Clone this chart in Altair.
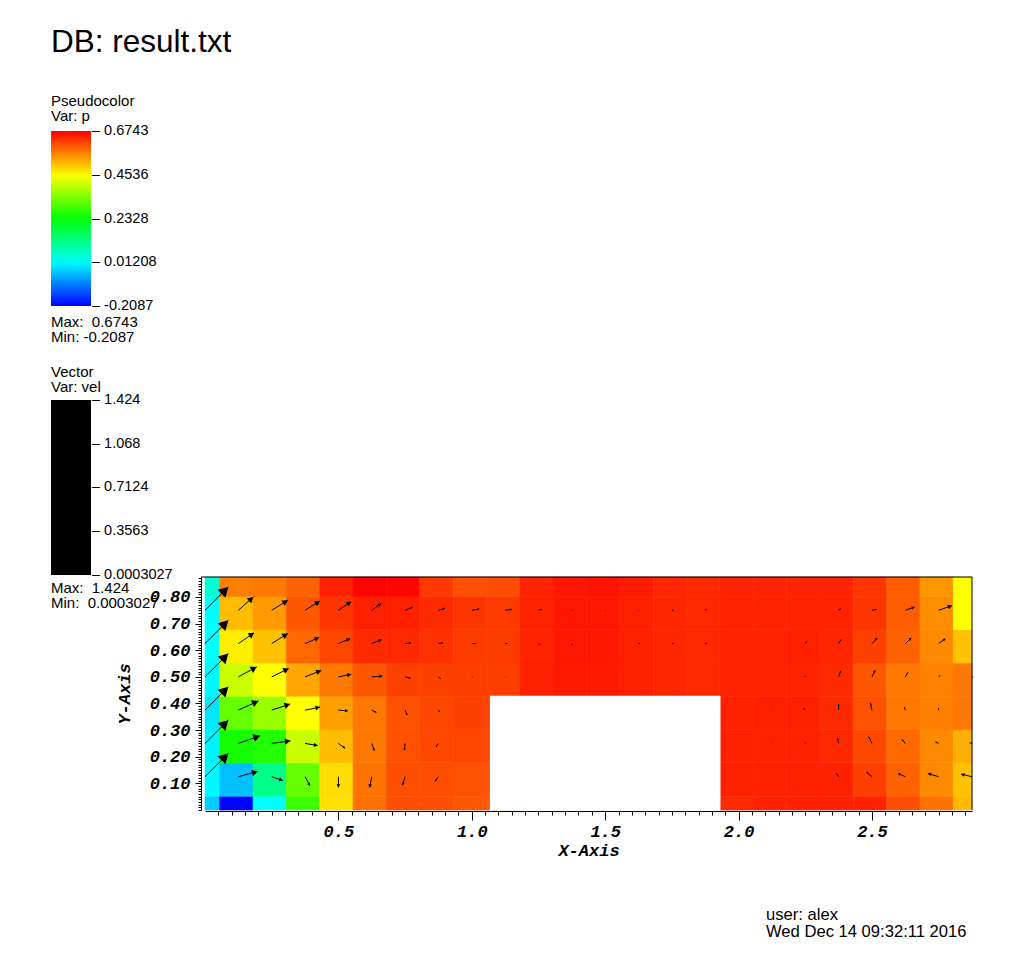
import altair as alt
import pandas as pd
import numpy as np

# ---------------- data ----------------
# cell edges of the colour grid (data units)
x_edges = [0.0, 0.055, 0.18, 0.305, 0.43, 0.555, 0.68, 0.805, 0.93, 1.055, 1.18, 1.305,
           1.43, 1.555, 1.68, 1.805, 1.93, 2.055, 2.18, 2.305, 2.43, 2.555, 2.68, 2.805, 2.875]
y_edges = [0.0, 0.052, 0.177, 0.302, 0.427, 0.552, 0.677, 0.802, 0.875]

# grid points (vector glyph tails)
x_points = [0.0, 0.125, 0.25, 0.375, 0.5, 0.625, 0.75, 0.875, 1.0, 1.125, 1.25, 1.375,
            1.5, 1.625, 1.75, 1.875, 2.0, 2.125, 2.25, 2.375, 2.5, 2.625, 2.75, 2.875]
y_points = [0.0, 0.125, 0.25, 0.375, 0.5, 0.625, 0.75, 0.875]

# pressure p per row (bottom row first), None = inside the obstacle
N = None
p_row0 = [-0.032, -0.2087, 0.012, 0.285, 0.480, 0.577, 0.608, 0.608, 0.601, 0.601, N, N, N, N, N, N,
          0.640, 0.647, 0.647, 0.647, 0.647, 0.608, 0.577, 0.515]
p_row1 = [0.005, -0.043, 0.115, 0.321, 0.483, 0.575, 0.608, 0.608, 0.605, 0.605, N, N, N, N, N, N,
          0.647, 0.647, 0.647, 0.647, 0.622, 0.591, 0.556, 0.508]
p_row2 = [0.000, 0.250, 0.262, 0.409, 0.512, 0.571, 0.605, 0.612, 0.615, 0.615, N, N, N, N, N, N,
          0.647, 0.647, 0.647, 0.640, 0.612, 0.583, 0.556, 0.523]
p_row3 = [-0.010, 0.321, 0.365, 0.454, 0.536, 0.571, 0.605, 0.615, 0.619, 0.619, N, N, N, N, N, N,
          0.647, 0.648, 0.648, 0.638, 0.605, 0.570, 0.564, 0.571]
p_row4 = [0.005, 0.409, 0.454, 0.531, 0.571, 0.601, 0.619, 0.619, 0.622, 0.622, 0.648, 0.652,
          0.652, 0.648, 0.643, 0.640, 0.645, 0.645, 0.645, 0.638, 0.601, 0.571, 0.563, 0.571]
p_row5 = [0.012, 0.468, 0.508, 0.586, 0.615, 0.638, 0.640, 0.633, 0.624, 0.624, 0.645, 0.657,
          0.657, 0.648, 0.643, 0.640, 0.645, 0.645, 0.648, 0.643, 0.619, 0.591, 0.556, 0.508]
p_row6 = [0.012, 0.512, 0.542, 0.601, 0.630, 0.648, 0.648, 0.638, 0.630, 0.624, 0.645, 0.657,
          0.657, 0.648, 0.643, 0.640, 0.645, 0.645, 0.645, 0.645, 0.630, 0.596, 0.553, 0.454]
p_row7 = [0.050, 0.564, 0.571, 0.590, 0.647, 0.672, 0.670, 0.625, 0.607, 0.610, 0.645, 0.657,
          0.660, 0.652, 0.643, 0.640, 0.645, 0.645, 0.645, 0.645, 0.630, 0.596, 0.545, 0.454]
p_rows = [p_row0, p_row1, p_row2, p_row3, p_row4, p_row5, p_row6, p_row7]

# velocity components (rows y=0.125 .. 0.75); rows y=0 and y=0.875 are zero
u_row1 = [1.0, 0.83, 0.47, 0.21, 0.0, -0.09, -0.11, -0.14, 0.0, 0, 0, 0, 0, 0, 0, 0,
          0.0, 0.0, 0.01, -0.09, -0.23, -0.31, -0.46, -0.47]
v_row1 = [1.0, 0.23, -0.16, -0.39, -0.46, -0.46, -0.36, -0.19, 0.0, 0, 0, 0, 0, 0, 0, 0,
          0.0, 0.0, 0.0, 0.14, 0.20, 0.14, 0.14, 0.11]
u_row2 = [1.0, 0.93, 0.80, 0.54, 0.29, 0.11, -0.03, -0.10, 0.0, 0, 0, 0, 0, 0, 0, 0,
          0.0, 0.01, 0.02, -0.04, -0.14, -0.14, -0.14, -0.10]
v_row2 = [1.0, 0.33, 0.11, -0.09, -0.21, -0.31, -0.29, -0.14, 0.0, 0, 0, 0, 0, 0, 0, 0,
          0.0, 0.0, 0.03, 0.21, 0.29, 0.17, 0.07, 0.03]
u_row3 = [1.0, 0.86, 0.79, 0.64, 0.40, 0.20, 0.09, 0.06, 0.0, 0, 0, 0, 0, 0, 0, 0,
          0.0, 0.01, -0.07, 0.0, -0.07, -0.04, 0.0, 0.0]
v_row3 = [1.0, 0.39, 0.26, 0.13, -0.03, -0.10, -0.21, -0.09, 0.0, 0, 0, 0, 0, 0, 0, 0,
          0.0, 0.0, 0.07, 0.26, 0.30, 0.14, 0.10, 0.0]
u_row4 = [1.0, 0.79, 0.73, 0.69, 0.54, 0.46, 0.23, 0.09, 0.03, 0.02, 0.0, 0.0, 0.0, 0.0, 0.0, 0.0,
          0.0, 0.0, 0.0, 0.10, 0.14, 0.11, 0.07, 0.05]
v_row4 = [1.0, 0.43, 0.36, 0.27, 0.11, 0.03, -0.06, -0.09, 0.0, 0.0, 0.0, 0.0, 0.0, 0.0, 0.0, 0.0,
          0.0, 0.0, 0.04, 0.26, 0.29, 0.19, 0.06, 0.0]
u_row5 = [1.0, 0.67, 0.69, 0.60, 0.51, 0.43, 0.26, 0.19, 0.17, 0.09, 0.07, 0.01, 0.0, 0.07, 0.07, 0.07,
          0.01, 0.01, 0.07, 0.11, 0.23, 0.26, 0.29, 0.0]
v_row5 = [1.0, 0.46, 0.43, 0.26, 0.21, 0.17, 0.03, 0.03, 0.0, 0.0, -0.06, -0.07, 0.0, 0.0, 0.0, 0.0,
          0.0, 0.0, 0.10, 0.17, 0.24, 0.24, 0.21, 0.0]
u_row6 = [1.0, 0.64, 0.69, 0.64, 0.54, 0.40, 0.33, 0.29, 0.31, 0.29, 0.14, 0.03, 0.02, 0.02, 0.07, 0.07,
          0.01, 0.01, 0.01, 0.09, 0.20, 0.40, 0.57, 0.0]
v_row6 = [1.0, 0.57, 0.43, 0.40, 0.37, 0.29, 0.14, 0.09, 0.05, 0.04, 0.04, 0.0, 0.0, 0.0, 0.0, 0.04,
          0.0, 0.0, 0.0, 0.07, 0.04, 0.14, 0.20, 0.0]
u_rows = {1: u_row1, 2: u_row2, 3: u_row3, 4: u_row4, 5: u_row5, 6: u_row6}
v_rows = {1: v_row1, 2: v_row2, 3: v_row3, 4: v_row4, 5: v_row5, 6: v_row6}

# obstacle (blank region)
obstacle_x = [1.07, 1.93]
obstacle_y = [0.0, 0.427]

# legends
p_stops = [-0.2087, 0.01208, 0.2328, 0.4536, 0.6743]
p_colors = ["#0000ff", "#00ffff", "#00ff00", "#ffff00", "#ff0000"]
vel_ticks = [0.0003027, 0.3563, 0.7124, 1.068, 1.424]

title_text = "DB: result.txt"
p_title = ["Pseudocolor", "Var: p"]
p_stats = "Max:\u00a0 0.6743\nMin: -0.2087"
vel_title = ["Vector", "Var: vel"]
vel_stats = "Max:\u00a0 1.424\nMin:\u00a0 0.0003027"
footer_text = "user: alex\nWed Dec 14 09:32:11 2016"

# ---------------- tables ----------------
cells = []
for j, row in enumerate(p_rows):
    for i, val in enumerate(row):
        if val is None:
            continue
        cells.append({"x0": x_edges[i], "x1": x_edges[i + 1],
                      "y0": y_edges[j], "y1": y_edges[j + 1], "p": val})
cells_df = pd.DataFrame(cells)

arrows = []
for j in u_rows:
    for i in range(len(x_points)):
        arrows.append({"x": x_points[i], "y": y_points[j],
                       "u": u_rows[j][i], "v": v_rows[j][i]})
arrows_df = pd.DataFrame(arrows)

obst_df = pd.DataFrame({"ox0": [obstacle_x[0]], "ox1": [obstacle_x[1]],
                        "oy0": [obstacle_y[0]], "oy1": [obstacle_y[1]]})

W, H = 767, 233
GLYPH = 0.0875  # data units per unit velocity

# tiny pad at the scale ends keeps the end labels centred on the bar ends
p_pad = 0.0015
p_domain = [p_stops[0] - p_pad] + p_stops[1:-1] + [p_stops[-1] + p_pad]
v_pad = 0.0025

xs = alt.Scale(domain=[0, 2.875], nice=False, zero=False)
ys = alt.Scale(domain=[0, 0.875], nice=False, zero=False)
pscale = alt.Scale(domain=p_domain, range=p_colors, interpolate="rgb")
vscale = alt.Scale(domain=[vel_ticks[0] - v_pad, vel_ticks[-1] + v_pad],
                   range=["black", "black"], zero=False, nice=False)

MONO = "Liberation Mono"
SANS = "Liberation Sans"

major_x = alt.Axis(orient="bottom", values=[0.5, 1.0, 1.5, 2.0, 2.5], format=".1f",
                   title="X-Axis", tickSize=9, tickColor="black", domainColor="black",
                   labelFont=MONO, labelFontSize=17, labelFontWeight="bold",
                   labelFontStyle="italic", labelColor="black", labelPadding=3,
                   titleFont=MONO, titleFontSize=17, titleFontWeight="bold",
                   titleFontStyle="italic", titleColor="black", titlePadding=3,
                   offset=1, grid=False, labelFlush=False, labelOverlap=False)
minor_x = alt.Axis(orient="bottom", values=[round(0.05 * k, 2) for k in range(1, 58)],
                   labels=False, tickSize=4, tickColor="black", domain=False,
                   offset=1, grid=False)
major_y = alt.Axis(orient="left", values=[0.1, 0.2, 0.3, 0.4, 0.5, 0.6, 0.7, 0.8], format=".2f",
                   title="Y-Axis", tickSize=6, tickColor="black", domainColor="black",
                   labelFont=MONO, labelFontSize=17, labelFontWeight="bold",
                   labelFontStyle="italic", labelColor="black", labelPadding=5,
                   titleFont=MONO, titleFontSize=17, titleFontWeight="bold",
                   titleFontStyle="italic", titleColor="black", titlePadding=16,
                   offset=4, grid=False, labelOverlap=False)
minor_y = alt.Axis(orient="left", values=[round(0.01 * k, 2) for k in range(0, 88)],
                   labels=False, tickSize=3, tickColor="black", domain=False,
                   offset=4, grid=False)

p_legend = alt.Legend(orient="none", legendX=-154, legendY=-483, direction="vertical",
                      gradientLength=175, gradientThickness=40, gradientStrokeWidth=0,
                      title=p_title, titleFont=SANS, titleFontSize=15, titleFontWeight="normal",
                      titleColor="black", titleLineHeight=15, titlePadding=7,
                      values=p_stops, labelFont=SANS, labelFontSize=14.5, labelColor="black",
                      labelBaseline="middle", labelOffset=1, labelOverlap=False,
                      labelExpr="'\u2013 ' + replace(format(datum.value, '.4~r'), '\u2212', '-')",
                      padding=0)
v_legend = alt.Legend(orient="none", legendX=-154, legendY=-212, direction="vertical",
                      gradientLength=175, gradientThickness=40, gradientStrokeWidth=0,
                      title=vel_title, titleFont=SANS, titleFontSize=15, titleFontWeight="normal",
                      titleColor="black", titleLineHeight=15, titlePadding=5,
                      values=vel_ticks, labelFont=SANS, labelFontSize=14.5, labelColor="black",
                      labelBaseline="middle", labelOffset=1, labelOverlap=False,
                      labelExpr="'\u2013 ' + format(datum.value, '.4~r')",
                      padding=0)

cell_layer = alt.Chart(cells_df).mark_rect(strokeWidth=0.6).encode(
    x=alt.X("x0:Q", scale=xs, axis=major_x),
    x2="x1:Q",
    y=alt.Y("y0:Q", scale=ys, axis=major_y),
    y2="y1:Q",
    fill=alt.Fill("p:Q", scale=pscale, legend=p_legend),
    stroke=alt.Stroke("p:Q", scale=pscale, legend=None),
)

obst_layer = alt.Chart(obst_df).mark_rect(fill="white", stroke="white", strokeWidth=1.2).encode(
    x=alt.X("ox0:Q", scale=xs, axis=minor_x, title=None),
    x2="ox1:Q",
    y=alt.Y("oy0:Q", scale=ys, axis=minor_y, title=None),
    y2="oy1:Q",
)

arrow_base = alt.Chart(arrows_df).transform_calculate(
    mag="sqrt(datum.u*datum.u + datum.v*datum.v)",
    xe=f"datum.x + datum.u*{GLYPH}",
    ye=f"datum.y + datum.v*{GLYPH}",
    hx=f"datum.x + datum.u*{GLYPH - 0.0128}",
    hy=f"datum.y + datum.v*{GLYPH - 0.0128}",
    ang="(atan2(datum.u, datum.v)*180/PI + 360) % 360",
).transform_calculate(
    hs="62*datum.mag*datum.mag"
).transform_filter("datum.mag > 0")

shaft_layer = arrow_base.mark_rule(strokeWidth=1).encode(
    x=alt.X("x:Q", scale=xs, axis=None),
    y=alt.Y("y:Q", scale=ys, axis=None),
    x2="xe:Q",
    y2="ye:Q",
    stroke=alt.Stroke("mag:Q", scale=vscale, legend=v_legend),
)

head_layer = arrow_base.mark_point(shape="triangle-up", filled=True, color="black",
                                   opacity=1, strokeWidth=0).encode(
    x=alt.X("hx:Q", scale=xs, axis=None),
    y=alt.Y("hy:Q", scale=ys, axis=None),
    angle=alt.Angle("ang:Q", scale=None),
    size=alt.Size("hs:Q", scale=None),
)

one = pd.DataFrame({"k": [0]})
top_border = alt.Chart(one).mark_rule(color="black", strokeWidth=1).encode(
    x=alt.value(-4), x2=alt.value(W), y=alt.value(0))
right_border = alt.Chart(one).mark_rule(color="black", strokeWidth=1).encode(
    x=alt.value(W), y=alt.value(0), y2=alt.value(H))


def text_layer(txt, x, y, size, line_h):
    return alt.Chart(pd.DataFrame({"t": [txt]})).mark_text(
        align="left", baseline="alphabetic", font=SANS, fontSize=size,
        color="black", lineBreak="\n", lineHeight=line_h
    ).encode(x=alt.value(x), y=alt.value(y), text="t:N")


title_layer = text_layer(title_text, -154, -525, 31.5, 31)
pstats_layer = text_layer(p_stats, -154, -250, 15, 15)
vstats_layer = text_layer(vel_stats, -154, 16, 15, 15)
footer_layer = text_layer(footer_text, 561, 343, 16.6, 17)

chart = alt.layer(
    cell_layer, obst_layer, shaft_layer, head_layer, top_border, right_border,
    title_layer, pstats_layer, vstats_layer, footer_layer
).resolve_scale(
    stroke="independent"
).resolve_axis(
    x="independent", y="independent"
).properties(
    width=W, height=H,
    autosize=alt.AutoSizeParams(type="none"),
    padding={"left": 197, "top": 569, "right": 40, "bottom": 136},
    background="white",
).configure_view(stroke=None)

chart.save("out.html", embed_options={"renderer": "svg", "actions": False})
